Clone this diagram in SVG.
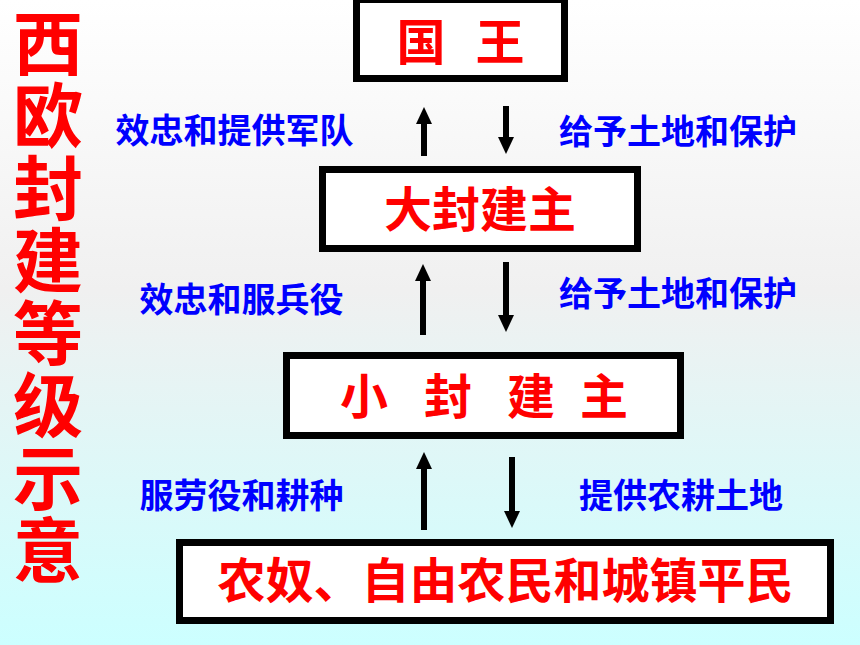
<svg xmlns="http://www.w3.org/2000/svg" width="860" height="645" viewBox="0 0 860 645">
<defs>
<linearGradient id="bg" x1="0" y1="0" x2="0" y2="1">
<stop offset="0" stop-color="#FFFFFF"/>
<stop offset="0.45" stop-color="#F0F0F0"/>
<stop offset="1" stop-color="#CCFFFF"/>
</linearGradient>
<marker id="ah" viewBox="0 0 17 16" refX="1" refY="8" markerWidth="17" markerHeight="16" markerUnits="userSpaceOnUse" orient="auto">
<path d="M0,0 L17,8 L0,16 z" fill="#000"/>
</marker>
<style>
.box{fill:#FFFFFF;stroke:#000000;stroke-width:7}
.red{fill:#FF0000;font-family:"Noto Sans CJK SC","Noto Sans CJK JP",sans-serif;font-weight:bold}
.blue{fill:#0000FF;font-family:"Noto Sans CJK SC","Noto Sans CJK JP",sans-serif;font-weight:bold;font-size:34px;text-anchor:middle}
.arr{stroke:#000;stroke-width:6;fill:none;marker-end:url(#ah)}
</style>
</defs>
<rect x="0" y="0" width="860" height="645" fill="url(#bg)"/>
<g id="title">
<text class="red" font-size="70" x="48" y="8" style="writing-mode:vertical-rl;text-orientation:upright" letter-spacing="2.5">西欧封建等级示意</text>
</g>
<g id="king">
<rect class="box" x="356.5" y="-0.5" width="208" height="79"/>
<text class="red" font-size="49" text-anchor="middle" y="60"><tspan x="421">国</tspan><tspan x="460"> </tspan><tspan x="500">王</tspan></text>
</g>
<g id="greatlord">
<rect class="box" x="322.5" y="169.5" width="315" height="79"/>
<text class="red" font-size="48" text-anchor="middle" x="480" y="227">大封建主</text>
</g>
<g id="lesserlord">
<rect class="box" x="286.5" y="355.5" width="394" height="80"/>
<text class="red" font-size="48" text-anchor="middle" y="414"><tspan x="364">小</tspan><tspan x="406"> </tspan><tspan x="448">封</tspan><tspan x="490"> </tspan><tspan x="531">建</tspan><tspan x="568"> </tspan><tspan x="604">主</tspan></text>
</g>
<g id="peasants">
<rect class="box" x="179.5" y="542.5" width="651" height="78"/>
<text class="red" font-size="48" text-anchor="middle" x="505.5" y="598">农奴、自由农民和城镇平民</text>
</g>
<g id="connectors">
<line class="arr" x1="424" y1="156" x2="424" y2="123"/>
<line class="arr" x1="506" y1="106" x2="506" y2="138"/>
<line class="arr" x1="423" y1="335" x2="423" y2="280"/>
<line class="arr" x1="506" y1="262" x2="506" y2="316"/>
<line class="arr" x1="424" y1="530" x2="424" y2="468"/>
<line class="arr" x1="512" y1="457" x2="512" y2="512"/>
</g>
<g id="labels">
<text class="blue" x="234.5" y="143">效忠和提供军队</text>
<text class="blue" x="678" y="144">给予土地和保护</text>
<text class="blue" x="241.5" y="312">效忠和服兵役</text>
<text class="blue" x="678" y="306">给予土地和保护</text>
<text class="blue" x="241.5" y="508">服劳役和耕种</text>
<text class="blue" x="681" y="508">提供农耕土地</text>
</g>
</svg>
